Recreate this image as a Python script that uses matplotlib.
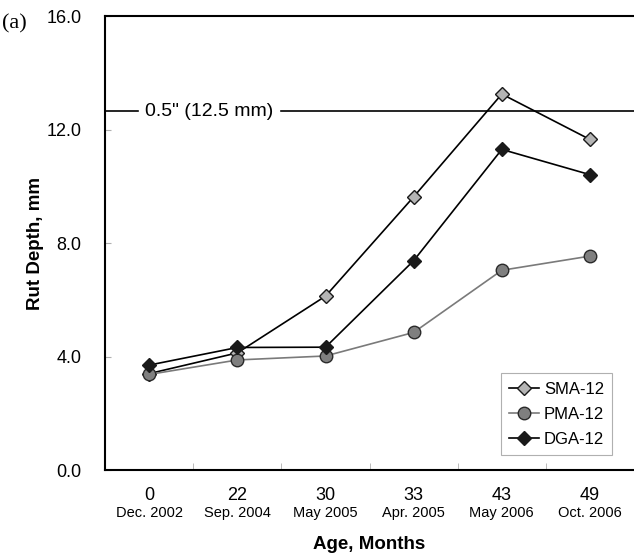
import matplotlib.pyplot as plt

ages = ["0", "22", "30", "33", "43", "49"]
dates = ["Dec. 2002", "Sep. 2004", "May 2005", "Apr. 2005", "May 2006", "Oct. 2006"]

sma = [3.40, 4.13, 6.13, 9.63, 13.25, 11.65]
pma = [3.37, 3.88, 4.02, 4.85, 7.04, 7.54]
dga = [3.70, 4.32, 4.33, 7.38, 11.30, 10.41]

limit = 12.65
limitLabel = "0.5\" (12.5 mm)"

plt.rcParams["font.family"] = ["Liberation Sans", "DejaVu Sans"]

fig = plt.figure(figsize=(6.34, 5.53), dpi=100)
ax = fig.add_axes([0.166, 0.150, 0.834, 0.821])

x = list(range(len(ages)))

ax.plot(x, sma, color="black", lw=1.2, marker="D", markersize=7,
        markerfacecolor="#b4b4b4", markeredgecolor="#1a1a1a", markeredgewidth=1,
        label="SMA-12", zorder=3)
ax.plot(x, pma, color="#7a7a7a", lw=1.2, marker="o", markersize=9,
        markerfacecolor="#7f7f7f", markeredgecolor="#2a2a2a", markeredgewidth=1,
        label="PMA-12", zorder=3)
ax.plot(x, dga, color="black", lw=1.2, marker="D", markersize=7,
        markerfacecolor="#1a1a1a", markeredgecolor="#1a1a1a", markeredgewidth=1,
        label="DGA-12", zorder=4)

ax.axhline(limit, color="black", lw=1.2, zorder=2)
ax.text(0.68, limit, limitLabel, ha="center", va="center", fontsize=14,
        backgroundcolor="white", zorder=2.5)

ax.set_xlim(-0.5, len(ages) - 0.5)
ax.set_ylim(0, 16)
ax.set_yticks([0, 4, 8, 12, 16])
ax.set_yticklabels([f"{v:.1f}" for v in [0, 4, 8, 12, 16]], fontsize=13)
ax.tick_params(axis="y", direction="in", length=4, color="#b0b0b0", pad=17)

ax.set_xticks(x)
ax.set_xticklabels(ages, fontsize=13)
ax.tick_params(axis="x", which="major", length=0, pad=12)
ax.set_xticks([i + 0.5 for i in x[:-1]], minor=True)
ax.tick_params(axis="x", which="minor", direction="in", length=5, color="#b0b0b0")

for i, d in enumerate(dates):
    ax.text(i, -0.094, d, transform=ax.get_xaxis_transform(), ha="center",
            va="center", fontsize=10.5)

for side in ["left", "bottom", "top"]:
    ax.spines[side].set_linewidth(1.5)
ax.spines["right"].set_visible(False)

ax.set_xlabel("Age, Months", fontsize=13.5, fontweight="bold", labelpad=23)
ax.set_ylabel("Rut Depth, mm", fontsize=13.5, fontweight="bold", labelpad=2)

leg = ax.legend(loc="lower right", bbox_to_anchor=(0.975, 0.015), fontsize=12,
                fancybox=False, framealpha=1, edgecolor="#b0b0b0",
                handlelength=1.8, borderpad=0.5, labelspacing=0.6, handletextpad=0.3)
leg.get_frame().set_linewidth(0.8)

fig.text(0.003, 0.948, "(a)", fontsize=16, family=["Liberation Serif", "DejaVu Serif"])

fig.savefig("out.png", dpi=100)
